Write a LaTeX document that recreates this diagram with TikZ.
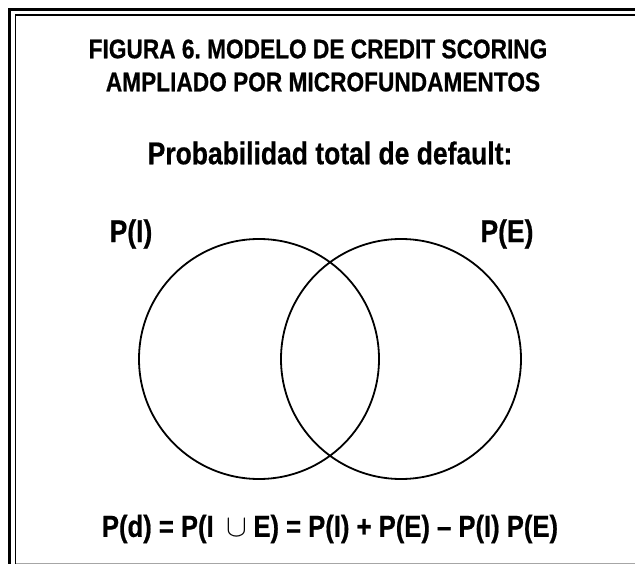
\documentclass[tikz,border=0pt]{standalone}
\usepackage{fontspec}
\usepackage{graphicx}
\setmainfont{Liberation Sans}[FakeStretch=0.84,BoldFeatures={FakeBold=0.6}]
\frenchspacing
\newcommand{\bigcupsym}{\scalebox{1.25}{$\cup$}}
\begin{document}
\begin{tikzpicture}[x=1pt,y=-1pt,
  txt/.style={inner sep=0pt,font=\bfseries},
  circ/.style={draw=black,line width=1.8pt}]
\useasboundingbox (0,0) rectangle (635,564);
% frame
\draw[line width=2.6pt] (9.5,564) -- (9.5,9.5) -- (635,9.5);
\draw[line width=1.4pt] (15.2,564) -- (15.2,15.2) -- (635,15.2);
\draw[gray!70,line width=1pt] (16,563) -- (635,563);
% titles
\node[txt,font=\fontsize{27}{27}\bfseries] (t1) at (318,49) {FIGURA 6. MODELO DE CREDIT SCORING};
\node[txt,font=\fontsize{27}{27}\bfseries] (t2) at (323,82) {AMPLIADO POR MICROFUNDAMENTOS};
\node[txt,font=\fontsize{31.5}{31.5}\bfseries] (t3) at (330,153) {Probabilidad total de default:};
% circles
\node[circ,circle,minimum size=240pt,inner sep=0pt] (ci) at (259,359) {};
\node[circ,circle,minimum size=240pt,inner sep=0pt] (ce) at (401,359) {};
\node[txt,font=\fontsize{31.5}{31.5}\bfseries] (pi) at (131,234) {P(I)};
\node[txt,font=\fontsize{31.5}{31.5}\bfseries] (pe) at (507,234) {P(E)};
\node[txt,font=\fontsize{30.5}{30.5}\bfseries] (f) at (330,529) {P(d) = P(I\hspace{13pt}\bigcupsym\hspace{6pt}E) = P(I) + P(E) -- P(I) P(E)};
\end{tikzpicture}
\end{document}
